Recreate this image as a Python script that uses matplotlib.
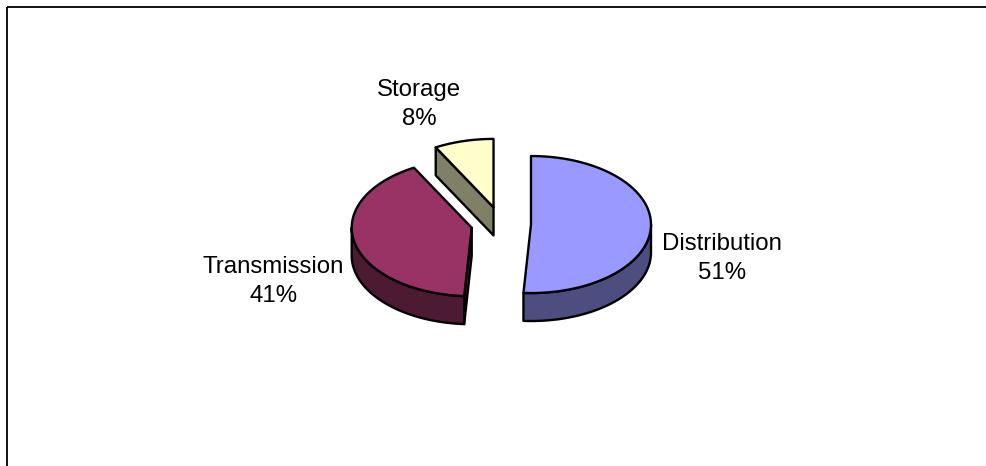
import numpy as np
import matplotlib
matplotlib.use("Agg")
import matplotlib.pyplot as plt
from matplotlib.patches import Polygon, Rectangle

############ Data
labels = ["Distribution", "Transmission", "Storage"]
values = [51, 41, 8]

############ Style / layout
top_colors = ["#9999FF", "#993366", "#FFFFCC"]
side_colors = ["#4D4D80", "#4D1A33", "#808066"]
CX, CY = 501, 224      # pie centre (pixels)
RX, RY = 120, 68.5     # ellipse radii of the top face
DEPTH = 28             # thickness of the pie
EXPLODE = 30           # how far each slice is pulled out
LABEL_PAD = 11


def pt(cx, cy, th):
    r = np.radians(th)
    return cx + RX * np.cos(r), cy - RY * np.sin(r)


def arc(cx, cy, t1, t2, n=120):
    th = np.linspace(t1, t2, n)
    x, y = pt(cx, cy, th)
    return np.column_stack([x, y])


def visible_ranges(t1, t2):
    # front half of the rim is where sin(theta) < 0
    lo_s, hi_s = min(t1, t2), max(t1, t2)
    out = []
    for k in range(-2, 2):
        a, b = -180 + 360 * k, 0 + 360 * k
        lo, hi = max(lo_s, a), min(hi_s, b)
        if hi > lo:
            out.append((lo, hi))
    return out


fig = plt.figure(figsize=(9.86, 4.66), dpi=100)
ax = fig.add_axes([0, 0, 1, 1])
ax.set_xlim(0, 986)
ax.set_ylim(466, 0)
ax.axis("off")

total = float(sum(values))
start = 90.0
slices = []
for i, v in enumerate(values):
    t1 = start
    t2 = start - 360.0 * v / total
    m = (t1 + t2) / 2
    cx = CX + EXPLODE * np.cos(np.radians(m))
    cy = CY - EXPLODE * RY / RX * np.sin(np.radians(m))
    slices.append((i, t1, t2, m, cx, cy))
    start = t2

edge = dict(edgecolor="black", linewidth=1.7, joinstyle="round")

# side pieces first
for i, t1, t2, m, cx, cy in slices:
    sc = side_colors[i]
    # radial cut faces
    if np.cos(np.radians(t1)) < 0:
        px, py = pt(cx, cy, t1)
        quad = [(cx, cy), (px, py), (px, py + DEPTH), (cx, cy + DEPTH)]
        ax.add_patch(Polygon(quad, closed=True, facecolor=sc, **edge))
    if np.cos(np.radians(t2)) > 0:
        px, py = pt(cx, cy, t2)
        quad = [(cx, cy), (px, py), (px, py + DEPTH), (cx, cy + DEPTH)]
        ax.add_patch(Polygon(quad, closed=True, facecolor=sc, **edge))
    # outer rim
    for lo, hi in visible_ranges(t1, t2):
        top = arc(cx, cy, lo, hi)
        bot = top[::-1] + [0, DEPTH]
        ax.add_patch(Polygon(np.vstack([top, bot]), closed=True, facecolor=sc, **edge))

# top faces
for i, t1, t2, m, cx, cy in slices:
    pts = np.vstack([[cx, cy], arc(cx, cy, t1, t2)])
    ax.add_patch(Polygon(pts, closed=True, facecolor=top_colors[i], **edge))

# labels
for i, t1, t2, m, cx, cy in slices:
    c, s = np.cos(np.radians(m)), np.sin(np.radians(m))
    lx = cx + (RX + LABEL_PAD) * c
    ly = cy - (RY + LABEL_PAD) * s
    ha = "left" if c > 0 else "right"
    if s > 0.5:
        va = "bottom"
    else:
        va = "center"
        ly += DEPTH * 1.1 - 25 * s
    pct = round(100 * values[i] / total)
    ax.text(lx, ly, f"{labels[i]}\n{pct}%", ha=ha, va=va, multialignment="center",
            fontsize=17.3, family=["Liberation Sans", "DejaVu Sans"], linespacing=1.45)

# chart area border
ax.add_patch(Rectangle((6.5, 6.5), 1000, 500, fill=False, edgecolor="black", linewidth=1.3))

fig.savefig("out.png", dpi=100)
